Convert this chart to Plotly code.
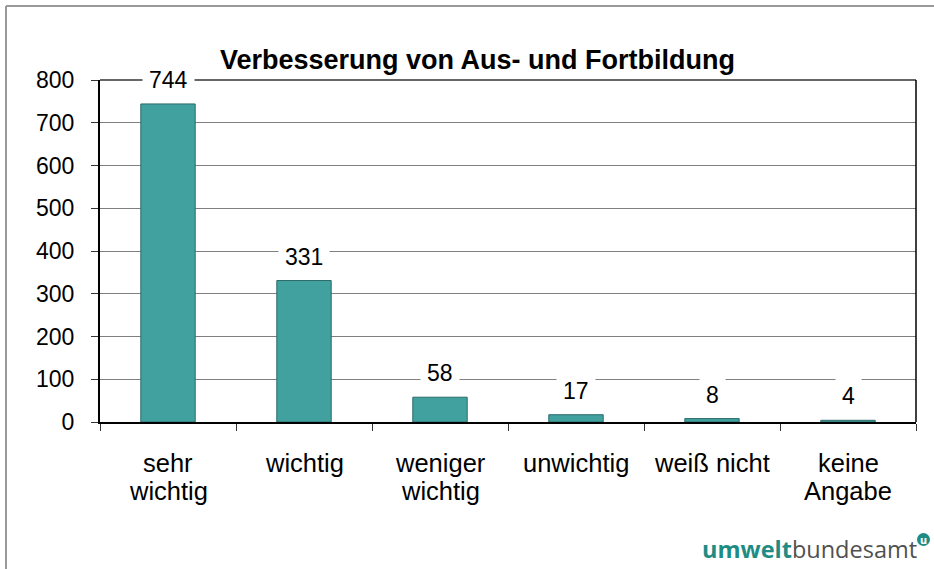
import plotly.graph_objects as go

categories = ["sehr<br>wichtig", "wichtig", "weniger<br>wichtig", "unwichtig", "weiß nicht", "keine<br>Angabe"]
values = [744, 331, 58, 17, 8, 4]
y_ticks = [0, 100, 200, 300, 400, 500, 600, 700, 800]

W, H = 934, 569
L, R, T, B = 100, 18, 80, 147
pw, ph = W - L - R, H - T - B

def px(x):
    return (x - L) / pw

def py(y):
    return (H - B - y) / ph

FONT = "Liberation Sans, Arial"

fig = go.Figure()
fig.add_trace(go.Bar(
    x=categories, y=values, width=0.4,
    marker=dict(color="#41A19F", line=dict(color="#2B6B69", width=1)),
    hoverinfo="skip",
))

for c, v in zip(categories, values):
    fig.add_annotation(x=c, y=v, xref="x", yref="y", text=str(v), showarrow=False,
                       yshift=24, bgcolor="white", borderpad=6,
                       font=dict(family=FONT, size=23, color="black"))

# category labels, one line at a time
for c in categories:
    lines = c.split("<br>")
    for i, ln in enumerate(lines):
        fig.add_annotation(x=c, xref="x", yref="paper", y=py(463 + 28 * i), text=ln,
                           showarrow=False, yanchor="middle",
                           font=dict(family=FONT, size=25.5, color="black"))

fig.update_layout(
    width=W, height=H,
    margin=dict(l=L, r=R, t=T, b=B),
    paper_bgcolor="white", plot_bgcolor="white",
    showlegend=False,
    font=dict(family=FONT, size=23, color="black"),
)
fig.update_xaxes(
    showgrid=False, showline=True, linecolor="black", linewidth=2,
    ticks="outside", tickson="boundaries", ticklen=7, tickcolor="#333", tickwidth=1,
    showticklabels=False,
)
fig.update_yaxes(
    range=[0, 800], tickvals=y_ticks, showgrid=True, gridcolor="#7f7f7f", gridwidth=1,
    showline=True, linecolor="black", linewidth=2, zeroline=False,
    ticks="outside", ticklen=7, tickcolor="#333", tickwidth=1,
    tickfont=dict(size=23), ticklabelstandoff=12,
)

# plot frame top and right
fig.add_shape(type="line", xref="paper", yref="paper", x0=0, x1=1, y0=1, y1=1,
              line=dict(color="#333", width=1.5), layer="above")
fig.add_shape(type="line", xref="paper", yref="paper", x0=1, x1=1, y0=0, y1=1,
              line=dict(color="black", width=1.5), layer="above")

# outer border
fig.add_shape(type="line", xref="paper", yref="paper", x0=px(6), x1=px(6), y0=py(569), y1=py(6),
              line=dict(color="#9a9a9a", width=2), layer="above")
fig.add_shape(type="line", xref="paper", yref="paper", x0=px(6), x1=px(934), y0=py(6), y1=py(6),
              line=dict(color="#9a9a9a", width=2), layer="above")

# title
fig.add_annotation(xref="paper", yref="paper", x=px(477), y=py(43), text="<b>Verbesserung von Aus- und Fortbildung</b>",
                   showarrow=False, font=dict(family=FONT, size=27, color="black"))

# logo
fig.add_annotation(xref="paper", yref="paper", x=px(919), y=py(549), xanchor="right", yanchor="middle",
                   text="<b><span style='color:#1F8C84'>umwelt</span></b><span style='color:#505050'>bundesamt</span>",
                   showarrow=False, font=dict(family="Open Sans, DejaVu Sans", size=23.5))
fig.add_shape(type="circle", xref="paper", yref="paper", x0=px(917), x1=px(930), y0=py(546), y1=py(533),
              fillcolor="#1F8C84", line=dict(width=0), layer="above",
              label=dict(text="<b>u</b>", font=dict(family="DejaVu Sans", size=10, color="white"),
                         textposition="middle center"))

fig.write_html("out.html", config={"displayModeBar": False},
               post_script="document.body.style.margin='0';")
